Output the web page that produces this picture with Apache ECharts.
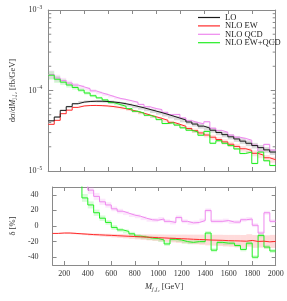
<!DOCTYPE html>
<html><head><meta charset="utf-8">
<script src="https://cdn.jsdelivr.net/npm/echarts@6/dist/echarts.min.js"></script>
<style>html,body{margin:0;padding:0;background:#fff}#c{width:287px;height:301px}</style>
</head><body><div id="c"></div>
<script>
// ---- data ----
const binEdges = [100,150,200,250,300,350,400,450,500,550,600,650,700,750,800,850,900,950,1000,1050,1100,1150,1200,1250,1300,1350,1400,1450,1500,1550,1600,1650,1700,1750,1800,1850,1900,1950,2000];
const seriesNames = ['LO','NLO EW','NLO QCD','NLO EW+QCD'];
const xTickValues = [200,400,600,800,1000,1200,1400,1600,1800,2000];
const yTopTicks = [1e-5,1e-4,1e-3];
const yTopMinorTicks = [2e-5,3e-5,4e-5,5e-5,6e-5,7e-5,8e-5,9e-5,2e-4,3e-4,4e-4,5e-4,6e-4,7e-4,8e-4,9e-4];
const yBotTicks = [-40,-20,0,20,40];

// top panel: dsigma/dM [fb/GeV]
const lo = [4.20e-5,4.68e-5,5.66e-5,6.30e-5,6.85e-5,7.17e-5,7.30e-5,7.35e-5,7.35e-5,7.30e-5,7.20e-5,7.05e-5,6.85e-5,6.61e-5,6.35e-5,6.10e-5,5.82e-5,5.56e-5,5.31e-5,5.05e-5,4.79e-5,4.54e-5,4.30e-5,4.06e-5,3.83e-5,3.61e-5,3.41e-5,3.21e-5,3.01e-5,2.83e-5,2.66e-5,2.50e-5,2.35e-5,2.21e-5,2.07e-5,1.95e-5,1.83e-5,1.72e-5];
const nloEW = [3.80e-5,4.26e-5,5.15e-5,5.70e-5,6.17e-5,6.42e-5,6.50e-5,6.52e-5,6.49e-5,6.42e-5,6.31e-5,6.15e-5,5.95e-5,5.72e-5,5.47e-5,5.23e-5,4.97e-5,4.73e-5,4.50e-5,4.26e-5,4.02e-5,3.80e-5,3.59e-5,3.37e-5,3.17e-5,2.97e-5,2.80e-5,2.63e-5,2.46e-5,2.30e-5,2.15e-5,2.02e-5,1.89e-5,1.80e-5,1.66e-5,1.57e-5,1.46e-5,1.38e-5];
const nloQCD = [1.58e-4,1.43e-4,1.33e-4,1.24e-4,1.17e-4,1.11e-4,1.05e-4,9.90e-5,9.35e-5,8.90e-5,8.43e-5,8.00e-5,7.75e-5,7.45e-5,7.14e-5,6.71e-5,6.29e-5,5.98e-5,5.79e-5,5.35e-5,5.01e-5,5.04e-5,4.56e-5,4.22e-5,4.00e-5,3.86e-5,4.09e-5,3.40e-5,3.19e-5,3.03e-5,2.79e-5,2.63e-5,2.54e-5,2.41e-5,2.09e-5,1.77e-5,2.14e-5,1.82e-5];
const nloEWQCD = [1.55e-4,1.38e-4,1.27e-4,1.17e-4,1.09e-4,1.01e-4,9.30e-5,8.60e-5,8.10e-5,7.64e-5,7.07e-5,6.70e-5,6.37e-5,5.95e-5,5.52e-5,5.25e-5,4.92e-5,4.67e-5,4.35e-5,3.89e-5,3.98e-5,3.72e-5,3.44e-5,3.21e-5,3.06e-5,2.78e-5,3.10e-5,2.21e-5,2.38e-5,2.21e-5,2.07e-5,1.88e-5,1.65e-5,1.72e-5,1.24e-5,1.72e-5,1.34e-5,1.17e-5];

// bottom panel: relative corrections delta [%]
const deltaEW = [-9.5,-9,-9,-9.5,-10,-10.5,-11,-11.3,-11.7,-12,-12.4,-12.8,-13.2,-13.5,-13.9,-14.3,-14.6,-15,-15.3,-15.7,-16,-16.3,-16.6,-17,-17.3,-17.6,-18,-18.2,-18.4,-18.8,-19,-19.2,-19.5,-18.5,-19.8,-19.5,-20.3,-19.8];
const deltaQCD = [276,205,135,100,71,58,46,38,31,27,22,19,16.5,14,12.5,10,8,7.5,9,6,4.5,11,6,4,4.5,7,20,6,6,7,5,5,8,9,1,-9,17,6];
const deltaEWQCD = [275,195,125,85,58,36,27,17,10,4.6,-1.8,-5,-7,-10,-13,-14,-15.5,-16,-18,-23,-17,-18,-20,-21,-20,-20,-9,-31,-21,-22,-22,-25,-30,-22,-40,-12,-27,-32];

// uncertainty band half-widths [%]
const bandLO = [2,2,2,2.5,2.5,3,3,3,3.5,3.5,4,4,4.5,4.5,5,5,5,5.5,5.5,6,6,6,6.5,6.5,7,7,7,7,7.5,7.5,7.5,8,8,8,8,8,8,8];
const bandEW = [0.5,0.5,0.8,1,1,1.2,1.4,1.6,1.8,2,2.2,2.4,2.6,2.9,3.2,3.5,3.8,4.1,4.4,4.7,5,5.3,5.6,5.9,6.2,6.5,6.8,7,7.2,7.4,7.6,7.8,8,8,8.2,8.2,8.4,8.4];
const bandQCD = [12,10,8,7,6,5.5,5,4.5,4,3.5,3,3,2.5,2.5,2.5,2.5,2.5,2.5,2.5,2.5,2.5,2.5,2.5,2.5,2.5,2.5,2.5,2.5,2.5,2.5,2.5,2.5,2.5,2.5,2.5,2.5,2.5,2.5];
const bandEWQCD = [12,10,8,7,6,5,4.5,4,3.5,3,3,2.5,2.5,2.5,2.5,2.5,2.5,2.5,2.5,2.5,2.5,2.5,2.5,2.5,2.5,2.5,2.5,2.5,2.5,2.5,2.5,2.5,2.5,2.5,2.5,2.5,2.5,2.5];

// ---- style ----
const FONT = '"Liberation Serif","DejaVu Serif",serif';
const C_LO = '#1a1a1a', C_EW = '#ff2a2a', C_QCD = '#ee88ee', C_EWQCD = '#22ee22';
const AX = '#8a8a8a';

function stepData(vals){ return binEdges.map((e,i)=>[e, vals[Math.min(i, vals.length-1)]]); }
function relBand(c, h){ return c.map((v,i)=>[binEdges[i], binEdges[i+1], v*(1-h[i]/100), v*(1+h[i]/100)]); }
function absBand(c, h){ return c.map((v,i)=>[binEdges[i], binEdges[i+1], v-h[i], v+h[i]]); }
function bandSeries(data, color, xi, yi){
  return {type:'custom', xAxisIndex:xi, yAxisIndex:yi, z:1, silent:true, animation:false, data,
    encode:{x:[0,1], y:[2,3]},
    renderItem(params, api){
      const p0 = api.coord([api.value(0), api.value(3)]);
      const p1 = api.coord([api.value(1), api.value(2)]);
      const cs = params.coordSys;
      const r = echarts.graphic.clipRectByRect({x:p0[0], y:p0[1], width:p1[0]-p0[0], height:p1[1]-p0[1]}, {x:cs.x, y:cs.y, width:cs.width, height:cs.height});
      return r ? {type:'rect', shape:r, style:{fill:color}} : null;
    }};
}
function lineSeries(name, vals, color, xi, yi, z){
  return {type:'line', name, xAxisIndex:xi, yAxisIndex:yi, data:stepData(vals), step:'end', symbol:'none', showSymbol:false,
    lineStyle:{color, width:1}, itemStyle:{color}, z:z, animation:false, clip:true};
}
function minorTickSeries(){
  return {type:'custom', xAxisIndex:0, yAxisIndex:0, z:5, silent:true, animation:false,
    data: yTopMinorTicks.map(v=>[binEdges[0], v]), encode:{x:0, y:1},
    renderItem(params, api){
      const y = api.coord([api.value(0), api.value(1)])[1];
      const cs = params.coordSys;
      return {type:'group', children:[
        {type:'line', shape:{x1:cs.x, y1:y, x2:cs.x+3, y2:y}, style:{stroke:AX, lineWidth:1}},
        {type:'line', shape:{x1:cs.x+cs.width-3, y1:y, x2:cs.x+cs.width, y2:y}, style:{stroke:AX, lineWidth:1}}
      ]};
    }};
}

function xAx(grid, pos, labels){
  return {type:'value', gridIndex:grid, position:pos, min:binEdges[0], max:binEdges[binEdges.length-1],
    axisLine:{show:true, onZero:false, lineStyle:{color:AX, width:1}},
    axisTick:{show:true, inside:true, length:4, customValues:xTickValues, lineStyle:{color:AX}},
    axisLabel:{show:labels, customValues:xTickValues, formatter:v=>String(v), fontFamily:FONT, fontSize:8, color:'#333', margin:5},
    splitLine:{show:false}};
}

const option = {
  animation:false,
  backgroundColor:'#fff',
  grid:[
    {left:41.5, right:11.3, top:10, height:161},
    {left:41.5, right:11.3, top:187, height:78}
  ],
  legend:{
    data:seriesNames, orient:'vertical', left:193, top:8, icon:'rect', itemWidth:22, itemHeight:1.2, itemGap:-0.6,
    textStyle:{fontFamily:FONT, fontSize:8.5, color:'#222'}, selectedMode:false
  },
  xAxis:[
    xAx(0,'bottom',false), xAx(0,'top',false),
    Object.assign(xAx(1,'bottom',true), {name:'{m|M}{s|j₁j₂} [GeV]', nameLocation:'middle', nameGap:17,
      nameTextStyle:{fontFamily:FONT, fontSize:8.5, color:'#333', rich:{m:{fontFamily:FONT, fontStyle:'italic', fontSize:8.5, color:'#333'}, s:{fontFamily:FONT, fontStyle:'italic', fontSize:6, color:'#333', padding:[4,0,0,0]}}}}),
    xAx(1,'top',false)
  ],
  yAxis:[
    {type:'log', logBase:10, gridIndex:0, position:'left', min:1e-5, max:1e-3,
      axisLine:{show:true, lineStyle:{color:AX}},
      axisTick:{show:true, inside:true, length:5, customValues:yTopTicks, lineStyle:{color:AX}},
      axisLabel:{customValues:yTopTicks, margin:6, fontFamily:FONT, color:'#333',
        formatter:v=>'{b|10}{s|−'+Math.round(-Math.log10(v))+'}',
        rich:{b:{fontFamily:FONT, fontSize:8, color:'#333'}, s:{fontFamily:FONT, fontSize:5.5, color:'#333', padding:[0,0,5,0]}}},
      splitLine:{show:false},
      name:'{a|dσ/d}{m|M}{s|j₁j₂} {a|[fb/GeV]}', nameLocation:'middle', nameRotate:90, nameGap:24,
      nameTextStyle:{fontFamily:FONT, fontSize:8.5, color:'#333', rich:{a:{fontFamily:FONT, fontSize:8.5, color:'#333'}, m:{fontFamily:FONT, fontStyle:'italic', fontSize:8.5, color:'#333'}, s:{fontFamily:FONT, fontSize:6, color:'#333', padding:[4,0,0,0]}}}},
    {type:'log', logBase:10, gridIndex:0, position:'right', min:1e-5, max:1e-3,
      axisLine:{show:true, lineStyle:{color:AX}},
      axisTick:{show:true, inside:true, length:5, customValues:yTopTicks, lineStyle:{color:AX}},
      axisLabel:{show:false}, splitLine:{show:false}},
    {type:'value', gridIndex:1, position:'left', min:-50, max:50,
      axisLine:{show:true, onZero:false, lineStyle:{color:AX}},
      axisTick:{show:true, inside:true, length:4, customValues:yBotTicks, lineStyle:{color:AX}},
      axisLabel:{customValues:yBotTicks, margin:14, fontFamily:FONT, fontSize:8, color:'#333'},
      splitLine:{show:false},
      name:'δ [%]', nameLocation:'middle', nameRotate:90, nameGap:24,
      nameTextStyle:{fontFamily:FONT, fontSize:8.5, color:'#333'}},
    {type:'value', gridIndex:1, position:'right', min:-50, max:50,
      axisLine:{show:true, onZero:false, lineStyle:{color:AX}},
      axisTick:{show:true, inside:true, length:4, customValues:yBotTicks, lineStyle:{color:AX}},
      axisLabel:{show:false}, splitLine:{show:false}}
  ],
  series:[
    bandSeries(relBand(lo, bandLO), 'rgba(150,150,150,0.35)', 0, 0),
    bandSeries(relBand(nloEW, bandEW), 'rgba(255,60,60,0.15)', 0, 0),
    bandSeries(relBand(nloQCD, bandQCD), 'rgba(238,136,238,0.22)', 0, 0),
    bandSeries(relBand(nloEWQCD, bandEWQCD), 'rgba(40,240,40,0.18)', 0, 0),
    lineSeries('LO', lo, C_LO, 0, 0, 4),
    lineSeries('NLO QCD', nloQCD, C_QCD, 0, 0, 3),
    lineSeries('NLO EW', nloEW, C_EW, 0, 0, 3),
    lineSeries('NLO EW+QCD', nloEWQCD, C_EWQCD, 0, 0, 3),
    minorTickSeries(),
    bandSeries(absBand(deltaEW, bandEW), 'rgba(255,90,90,0.22)', 2, 2),
    bandSeries(absBand(deltaQCD, bandQCD), 'rgba(238,136,238,0.2)', 2, 2),
    bandSeries(absBand(deltaEWQCD, bandEWQCD), 'rgba(40,240,40,0.18)', 2, 2),
    lineSeries('NLO QCD', deltaQCD, C_QCD, 2, 2, 3),
    lineSeries('NLO EW+QCD', deltaEWQCD, C_EWQCD, 2, 2, 3),
    lineSeries('NLO EW', deltaEW, C_EW, 2, 2, 4)
  ]
};
const chart = echarts.init(document.getElementById('c'), null, {renderer:'canvas'});
chart.setOption(option);
</script>
</body></html>
